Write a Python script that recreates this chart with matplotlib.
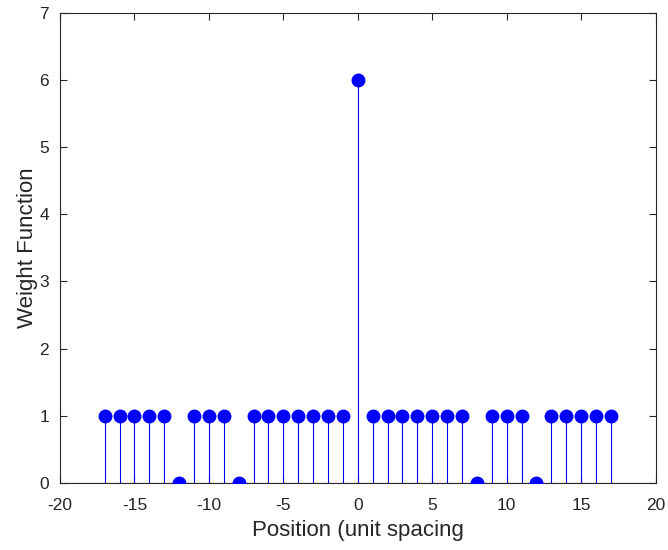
import numpy as np
import matplotlib
matplotlib.use("Agg")
import matplotlib.pyplot as plt

# Stem positions and weights
positions = list(range(-17, 18))
weights = [1, 1, 1, 1, 1, 0, 1, 1, 1, 0, 1, 1, 1, 1, 1, 1, 1,
           6,
           1, 1, 1, 1, 1, 1, 1, 0, 1, 1, 1, 0, 1, 1, 1, 1, 1]

x_ticks = [-20, -15, -10, -5, 0, 5, 10, 15, 20]
y_ticks = [0, 1, 2, 3, 4, 5, 6, 7]

plt.rcParams['font.family'] = ['Liberation Sans', 'DejaVu Sans']
axis_color = '#262626'

fig = plt.figure(figsize=(6.68, 5.5), dpi=100)
ax = fig.add_axes([0.0898, 0.1224, 0.8915, 0.8536])

markerline, stemlines, baseline = ax.stem(positions, weights, basefmt=' ')
plt.setp(markerline, color='#0000ff', marker='o', markersize=9, zorder=3)
plt.setp(stemlines, color='#0000ff', linewidth=0.8)
ax.axhline(0, color=axis_color, linewidth=0.8, zorder=1)

ax.set_xlim(-20, 20)
ax.set_ylim(0, 7)
ax.set_xticks(x_ticks)
ax.set_yticks(y_ticks)
ax.set_xticklabels([str(t) for t in x_ticks])

for side in ax.spines.values():
    side.set_color(axis_color)
    side.set_linewidth(0.8)
ax.tick_params(direction='in', top=True, right=True, length=5, width=0.8,
               colors=axis_color, labelsize=12.5)
ax.tick_params(axis='x', pad=11)
ax.tick_params(axis='y', pad=8)

ax.set_xlabel('Position (unit spacing', fontsize=16, color=axis_color, labelpad=5)
ax.set_ylabel('Weight Function', fontsize=16, color=axis_color, labelpad=1)

fig.savefig('out.png', dpi=100)
